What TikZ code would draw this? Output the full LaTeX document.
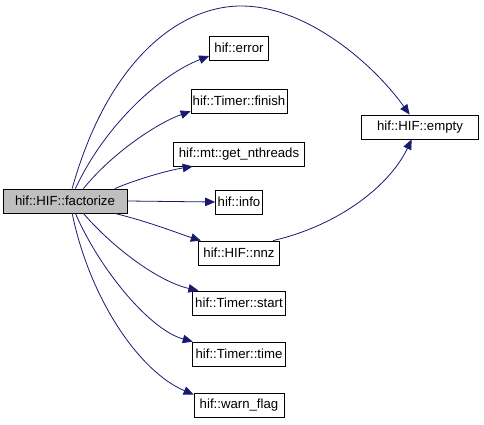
\documentclass[tikz,border=0pt]{standalone}
\usepackage{fontspec}
\setmainfont{Liberation Sans}
\usetikzlibrary{arrows.meta}
\definecolor{edgeblue}{RGB}{25,25,112}
\begin{document}
\begin{tikzpicture}[x=1pt, y=-1pt,
	fn/.style = {draw, line width=0.8pt, minimum height=24pt, inner sep=0pt, font=\fontsize{13.2}{15}\selectfont},
	call/.style = {edgeblue, line width=0.8pt, -{Triangle[length=10pt,width=8.5pt]}}]
	\useasboundingbox (0,0) rectangle (484,425);
	\node [fn, fill={rgb,255:red,191;green,191;blue,191}, minimum width=124pt] (factorize) at (65,201) {hif::HIF::factorize};
	\node [fn, minimum width=59pt] (error) at (239,48) {hif::error};
	\node [fn, minimum width=96pt] (finish) at (239,101) {hif::Timer::finish};
	\node [fn, minimum width=131pt] (nthreads) at (239,154) {hif::mt::get\_nthreads};
	\node [fn, minimum width=47pt] (info) at (239,202) {hif::info};
	\node [fn, minimum width=81pt] (nnz) at (239,253) {hif::HIF::nnz};
	\node [fn, minimum width=93pt] (start) at (239,303) {hif::Timer::start};
	\node [fn, minimum width=93pt] (time) at (239,354) {hif::Timer::time};
	\node [fn, minimum width=90pt] (warnflag) at (239,405) {hif::warn\_flag};
	\node [fn, minimum width=117pt] (empty) at (420,127) {hif::HIF::empty};
	% calls
	\draw [call] (factorize.60) .. controls (108,60) and (180,5) .. (243,6) .. controls (306,7) and (372,62) .. (empty.130);
	\draw [call] (factorize.50) .. controls (105,125) and (160,75) .. (error.195);
	\draw [call] (factorize.34) .. controls (115,150) and (160,122) .. (finish.192);
	\draw [call] (factorize.14) .. controls (140,178) and (170,170) .. (nthreads.195);
	\draw [call] (factorize.east) -- (info.west);
	\draw [call] (factorize.-14) .. controls (150,222) and (180,234) .. (nnz.162);
	\draw [call] (factorize.-34) .. controls (115,250) and (160,282) .. (start.163);
	\draw [call] (factorize.-50) .. controls (100,270) and (150,330) .. (time.165);
	\draw [call] (factorize.-60) .. controls (90,300) and (140,372) .. (warnflag.167);
	\draw [call] (nnz.20) .. controls (340,225) and (390,185) .. (empty.236);
\end{tikzpicture}
\end{document}
